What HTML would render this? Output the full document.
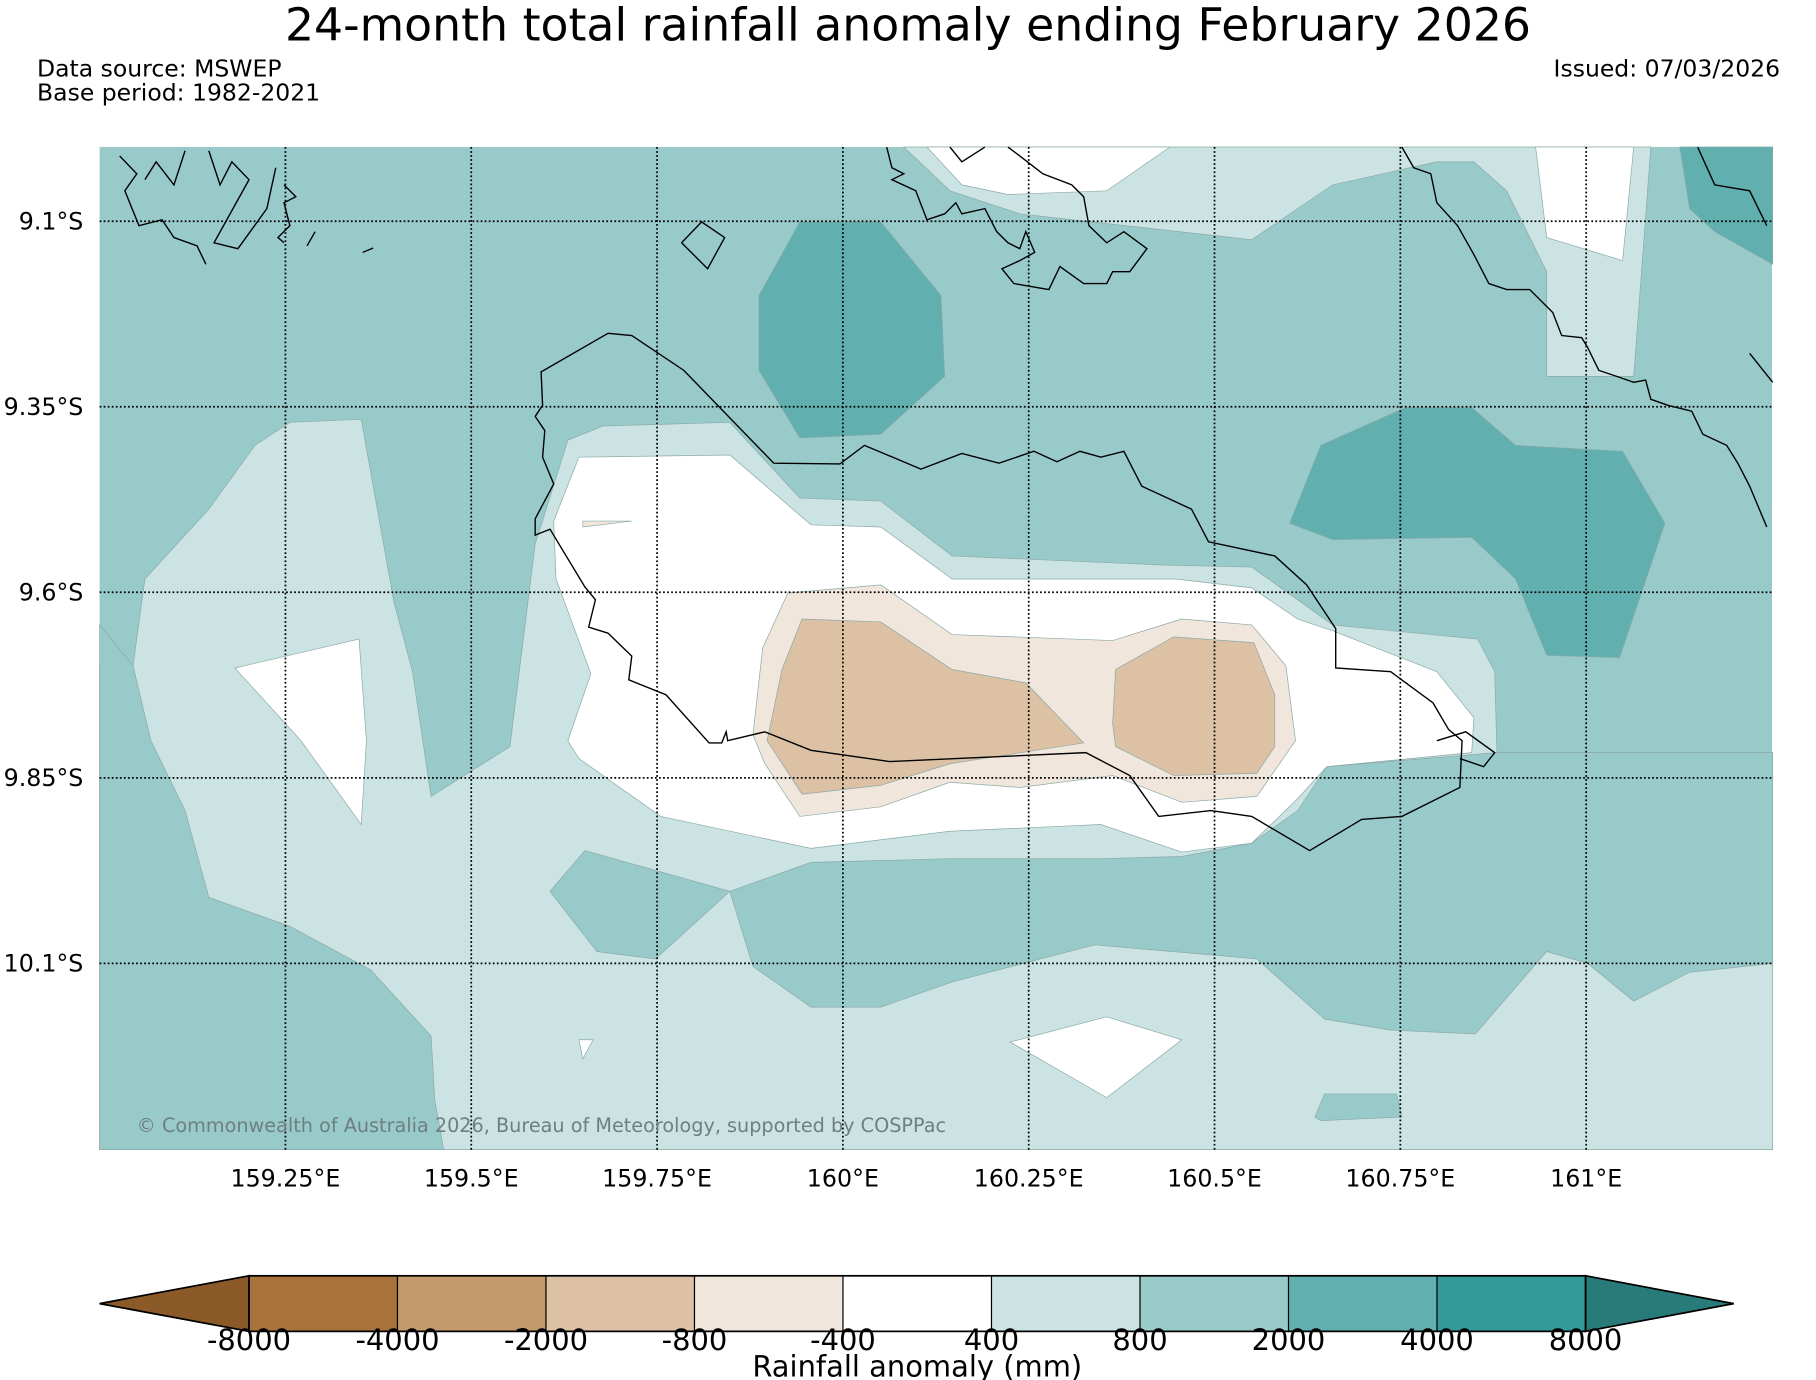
<!DOCTYPE html>
<html><head><meta charset="utf-8"><style>
html,body{margin:0;padding:0;background:#fff;}
svg{display:block;font-family:"DejaVu Sans","Liberation Sans",sans-serif;}
</style></head><body>
<svg id="chart" width="1816" height="1380" viewBox="0 0 1568 1192" preserveAspectRatio="none" xmlns="http://www.w3.org/2000/svg">
<text x="784" y="35" text-anchor="middle" font-size="39.5">24-month total rainfall anomaly ending February 2026</text>
<text x="32" y="66" font-size="20.3">Data source: MSWEP</text>
<text x="32" y="87" font-size="20.3">Base period: 1982-2021</text>
<text x="1537" y="66" text-anchor="end" font-size="20.3">Issued: 07/03/2026</text>
<g id="map"></g>
<g id="cbar"></g>
<text x="792" y="1189" text-anchor="middle" font-size="25">Rainfall anomaly (mm)</text>
</svg>
<script>
// colour classes (boundaries) and colours
const levels = [-8000,-4000,-2000,-800,-400,400,800,2000,4000,8000];
const classColors = ["#8c5a28","#a8733a","#c49a6c","#dcc1a5","#f1e6dc","#ffffff","#cbe4e3","#99caca","#62afaf","#339a97","#287b78"];
// map extent
const lonTicks = [159.25,159.5,159.75,160,160.25,160.5,160.75,161];
const lonLabels = ["159.25°E","159.5°E","159.75°E","160°E","160.25°E","160.5°E","160.75°E","161°E"];
const latTicks = [9.1,9.35,9.6,9.85,10.1];
const latLabels = ["9.1°S","9.35°S","9.6°S","9.85°S","10.1°S"];
const backgroundValue = 1200;
// contour regions: value (mm) and [lon,lat] rings
const regionValues = [600,1200,1200,1200,1200,0,600,0,0,0,0,0,3000,3000,3000,-600,-600,-1200,-1200];
const regionNames = ["light-region-main","teal-left","teal-band","teal-patch","teal-small","white-small","light-top","white-top-1","white-top-2","white-left","white-center","white-bottom","dark-teal-1","dark-teal-2","dark-teal-3","brown-light-1","brown-light-2","brown-1","brown-2"];
const regionRings = [
[[159.000,9.699],[159.045,9.699],[159.061,9.582],[159.147,9.488],[159.209,9.402],[159.256,9.371],[159.352,9.367],[159.396,9.613],[159.421,9.707],[159.446,9.875],[159.552,9.808],[159.586,9.535],[159.630,9.395],[159.677,9.376],[159.848,9.371],[159.942,9.473],[160.051,9.477],[160.147,9.551],[160.425,9.563],[160.550,9.566],[160.659,9.644],[160.854,9.663],[160.877,9.707],[160.880,9.816],[161.251,9.816],[161.251,10.351],[159.000,10.351]],
[[159.000,9.644],[159.045,9.699],[159.069,9.800],[159.115,9.894],[159.147,10.011],[159.256,10.050],[159.365,10.109],[159.446,10.198],[159.451,10.284],[159.463,10.351],[159.000,10.351]],
[[159.848,10.003],[159.957,9.964],[160.144,9.959],[160.347,9.959],[160.456,9.956],[160.550,9.938],[160.612,9.894],[160.651,9.835],[160.880,9.816],[161.251,9.816],[161.251,10.100],[161.139,10.112],[161.064,10.151],[161.002,10.100],[160.947,10.084],[160.851,10.195],[160.737,10.190],[160.648,10.175],[160.557,10.094],[160.339,10.075],[160.147,10.125],[160.051,10.159],[159.957,10.159],[159.879,10.104]],
[[159.606,10.003],[159.653,9.948],[159.848,10.003],[159.748,10.094],[159.669,10.084]],
[[160.635,10.307],[160.648,10.276],[160.745,10.276],[160.752,10.307],[160.643,10.312]],
[[159.645,10.203],[159.664,10.203],[159.650,10.229]],
[[160.082,9.000],[160.144,9.059],[160.238,9.090],[160.550,9.125],[160.659,9.051],[160.799,9.020],[160.849,9.020],[160.893,9.059],[160.947,9.168],[160.947,9.309],[161.064,9.309],[161.087,9.000]],
[[160.113,9.000],[160.160,9.051],[160.222,9.064],[160.355,9.059],[160.440,9.000]],
[[160.932,9.000],[160.947,9.122],[161.049,9.153],[161.064,9.000]],
[[159.182,9.702],[159.349,9.663],[159.359,9.800],[159.352,9.913],[159.271,9.800]],
[[159.611,9.504],[159.645,9.418],[159.848,9.415],[159.957,9.509],[160.051,9.512],[160.147,9.582],[160.448,9.582],[160.550,9.594],[160.612,9.636],[160.659,9.652],[160.799,9.707],[160.849,9.769],[160.846,9.816],[160.651,9.835],[160.612,9.878],[160.550,9.938],[160.456,9.950],[160.347,9.913],[160.144,9.922],[159.957,9.945],[159.755,9.902],[159.645,9.824],[159.630,9.800],[159.661,9.710],[159.614,9.582]],
[[160.225,10.206],[160.355,10.172],[160.456,10.203],[160.355,10.281]],
[[159.887,9.200],[159.942,9.101],[160.051,9.101],[160.132,9.200],[160.137,9.309],[160.051,9.387],[159.942,9.392],[159.887,9.301]],
[[160.601,9.507],[160.643,9.402],[160.757,9.351],[160.846,9.351],[160.905,9.402],[161.049,9.410],[161.106,9.507],[161.045,9.688],[160.947,9.685],[160.905,9.582],[160.846,9.526],[160.659,9.529]],
[[161.126,9.000],[161.251,9.000],[161.251,9.158],[161.173,9.114],[161.139,9.083]],
[[159.879,9.792],[159.892,9.675],[159.926,9.601],[160.051,9.590],[160.147,9.657],[160.363,9.665],[160.456,9.636],[160.550,9.644],[160.596,9.699],[160.609,9.800],[160.557,9.875],[160.456,9.883],[160.363,9.847],[160.238,9.863],[160.144,9.856],[160.051,9.889],[159.942,9.902],[159.895,9.831]],
[[159.650,9.504],[159.716,9.504],[159.650,9.512]],
[[159.898,9.800],[159.918,9.704],[159.945,9.636],[160.051,9.640],[160.147,9.704],[160.246,9.722],[160.324,9.803],[160.144,9.831],[160.051,9.860],[159.945,9.872]],
[[160.363,9.777],[160.367,9.704],[160.445,9.660],[160.553,9.668],[160.581,9.738],[160.581,9.808],[160.557,9.844],[160.445,9.847],[160.367,9.808]]
];
// coastlines
const coastLines = [
[[159.586,9.501],[159.611,9.454],[159.596,9.418],[159.599,9.382],[159.586,9.363],[159.596,9.348],[159.594,9.303],[159.684,9.251],[159.716,9.254],[159.786,9.301],[159.907,9.426],[159.996,9.427],[160.029,9.402],[160.105,9.434],[160.160,9.413],[160.210,9.426],[160.257,9.410],[160.288,9.424],[160.319,9.410],[160.347,9.418],[160.378,9.410],[160.402,9.457],[160.469,9.488],[160.492,9.532],[160.581,9.551],[160.624,9.590],[160.663,9.649],[160.663,9.702],[160.737,9.707],[160.794,9.749],[160.815,9.785],[160.833,9.800],[160.830,9.863],[160.752,9.902],[160.698,9.906],[160.628,9.948],[160.550,9.902],[160.495,9.894],[160.425,9.902],[160.386,9.847],[160.327,9.816],[160.063,9.828],[159.957,9.813],[159.895,9.788],[159.845,9.800],[159.843,9.788],[159.837,9.803],[159.820,9.803],[159.762,9.738],[159.712,9.718],[159.716,9.686],[159.684,9.655],[159.658,9.647],[159.667,9.610],[159.653,9.593],[159.606,9.515],[159.586,9.523],[159.586,9.501]],
[[160.799,9.800],[160.838,9.788],[160.877,9.816],[160.862,9.835],[160.830,9.824]],
[[159.783,9.129],[159.810,9.101],[159.841,9.122],[159.818,9.164],[159.783,9.129]],
[[160.059,9.000],[160.066,9.028],[160.082,9.036],[160.066,9.044],[160.098,9.059],[160.113,9.098],[160.137,9.090],[160.152,9.075],[160.160,9.090],[160.191,9.083],[160.207,9.114],[160.222,9.129],[160.238,9.137],[160.246,9.114],[160.258,9.142],[160.238,9.153],[160.214,9.164],[160.230,9.184],[160.277,9.192],[160.292,9.161],[160.324,9.184],[160.355,9.184],[160.363,9.168],[160.386,9.168],[160.409,9.137],[160.378,9.114],[160.355,9.129],[160.331,9.106],[160.324,9.067],[160.308,9.051],[160.269,9.036],[160.238,9.012],[160.222,9.000]],
[[160.144,9.000],[160.160,9.020],[160.191,9.000]],
[[160.752,9.000],[160.768,9.028],[160.791,9.036],[160.799,9.075],[160.827,9.106],[160.849,9.145],[160.869,9.184],[160.893,9.192],[160.924,9.192],[160.955,9.223],[160.967,9.254],[160.994,9.257],[161.002,9.270],[161.017,9.301],[161.041,9.309],[161.064,9.317],[161.080,9.314],[161.087,9.340],[161.110,9.348],[161.142,9.356],[161.157,9.387],[161.189,9.402],[161.204,9.426],[161.220,9.457],[161.243,9.512]],
[[161.150,9.000],[161.173,9.051],[161.220,9.059],[161.243,9.106]],
[[161.220,9.278],[161.251,9.317]],
[[159.027,9.012],[159.050,9.036],[159.034,9.059],[159.053,9.106],[159.084,9.098],[159.100,9.122],[159.131,9.133],[159.143,9.158]],
[[159.061,9.044],[159.076,9.020],[159.100,9.051],[159.115,9.005]],
[[159.147,9.005],[159.162,9.051],[159.178,9.020],[159.201,9.044],[159.154,9.129],[159.186,9.137],[159.225,9.083],[159.237,9.028]],
[[159.248,9.051],[159.264,9.067],[159.248,9.075],[159.256,9.106],[159.240,9.122],[159.248,9.129]],
[[159.279,9.133],[159.290,9.114]],
[[159.354,9.142],[159.368,9.136]]
];
const NS="http://www.w3.org/2000/svg";
const X0=86,X1=1530,Y0=127,Y1=993,LON0=159,LON1=161.25,LAT0=9,LAT1=10.351;
function xScale(lon){return X0+(lon-LON0)/(LON1-LON0)*(X1-X0);}
function yScale(lat){return Y0+(lat-LAT0)/(LAT1-LAT0)*(Y1-Y0);}
function colorFor(v){let i=0;while(i<levels.length&&v>=levels[i])i++;return classColors[i];}
function mk(tag,attrs,parent){const e=document.createElementNS(NS,tag);for(const k in attrs)e.setAttribute(k,attrs[k]);parent.appendChild(e);return e;}
const map=document.getElementById('map');
const bg=mk('rect',{x:X0,y:Y0,width:X1-X0,height:Y1-Y0,fill:colorFor(backgroundValue)},map);


regionRings.forEach((ring,i)=>{
  const p=mk('polygon',{points:ring.map(d=>xScale(d[0]).toFixed(1)+','+yScale(d[1]).toFixed(1)).join(' '),fill:colorFor(regionValues[i]),stroke:'#8aa9a8','stroke-width':0.6},map);
  
  
});
coastLines.forEach((line)=>{
  const p=mk('polyline',{points:line.map(d=>xScale(d[0]).toFixed(1)+','+yScale(d[1]).toFixed(1)).join(' '),fill:'none',stroke:'#000','stroke-width':1.2},map);
  
  
});
lonTicks.forEach((lon,i)=>{
  const x=xScale(lon);
  const l=mk('line',{x1:x,y1:Y0,x2:x,y2:Y1,stroke:'#000','stroke-width':1.5,'stroke-dasharray':'1.5 2'},map);
  
  
  const t=mk('text',{x:x,y:1025,'text-anchor':'middle','font-size':20.5},map);
  t.textContent=lonLabels[i];
  
  
});
latTicks.forEach((lat,i)=>{
  const y=yScale(lat);
  const l=mk('line',{x1:X0,y1:y,x2:X1,y2:y,stroke:'#000','stroke-width':1.5,'stroke-dasharray':'1.5 2'},map);
  
  
  const t=mk('text',{x:72,y:y+7,'text-anchor':'end','font-size':20.5},map);
  t.textContent=latLabels[i];
  
  
});
const cr=mk('text',{x:118,y:978,'font-size':16.6,fill:'#6f7f7f'},map);
cr.textContent='© Commonwealth of Australia 2026, Bureau of Meteorology, supported by COSPPac';


// colorbar
const cb=document.getElementById('cbar');
const CB0=215,CB1=1369,CBY0=1102,CBY1=1150,TIP0=86,TIP1=1497;
function cbX(i){return CB0+i*(CB1-CB0)/(levels.length-1);}
const lt=mk('polygon',{points:`${TIP0},${(CBY0+CBY1)/2} ${CB0},${CBY0} ${CB0},${CBY1}`,fill:classColors[0],stroke:'#000','stroke-width':1.5},cb);


const rt=mk('polygon',{points:`${TIP1},${(CBY0+CBY1)/2} ${CB1},${CBY0} ${CB1},${CBY1}`,fill:classColors[classColors.length-1],stroke:'#000','stroke-width':1.5},cb);


for(let i=0;i<levels.length-1;i++){
  const r=mk('rect',{x:cbX(i),y:CBY0,width:cbX(i+1)-cbX(i),height:CBY1-CBY0,fill:classColors[i+1],stroke:'#000','stroke-width':1},cb);
  
  
}
const fr=mk('rect',{x:CB0,y:CBY0,width:CB1-CB0,height:CBY1-CBY0,fill:'none',stroke:'#000','stroke-width':1.5},cb);


levels.forEach((v,i)=>{
  const t=mk('text',{x:cbX(i),y:1166,'text-anchor':'middle','font-size':25},cb);
  t.textContent=String(v);
  
  
});
</script>
</body></html>
